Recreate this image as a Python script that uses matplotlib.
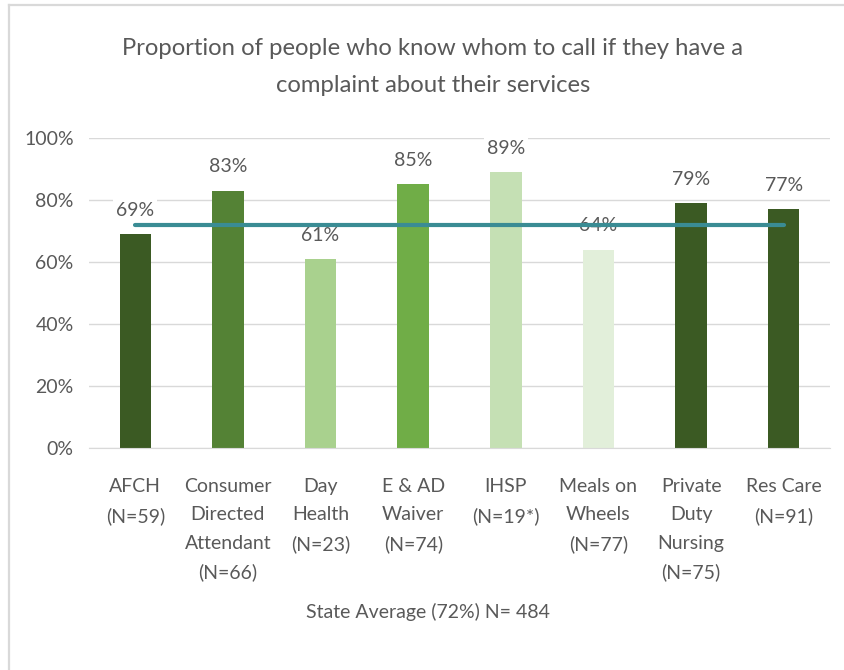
import matplotlib
matplotlib.use('Agg')
from matplotlib import pyplot as plt
from matplotlib.lines import Line2D
from matplotlib.ticker import PercentFormatter

# survey results by program
programs = ['AFCH\n(N=59)', 'Consumer\nDirected\nAttendant\n(N=66)', 'Day\nHealth\n(N=23)',
            'E & AD\nWaiver\n(N=74)', 'IHSP\n(N=19*)', 'Meals on\nWheels\n(N=77)',
            'Private\nDuty\nNursing\n(N=75)', 'Res Care\n(N=91)']
shares = [69, 83, 61, 85, 89, 64, 79, 77]
state_avg = 72
colors = ['#3b5a23', '#548235', '#a9d18e', '#70ad47', '#c5e0b4', '#e2efda', '#3b5a23', '#3b5a23']

plt.rcParams['font.family'] = ['Lato', 'DejaVu Sans']
txt = '#595959'

fig = plt.figure(figsize=(8.45, 6.7), dpi=100)
ax = fig.add_axes([0.1053, 0.3318, 0.877, 0.4622])

x = range(len(programs))
ax.bar(x, shares, width=0.34, color=colors, zorder=2)
ax.plot([0, len(programs) - 1], [state_avg, state_avg], color='#3a8c94', lw=3,
        solid_capstyle='round', zorder=4)

for i, v in enumerate(shares):
    ax.annotate(f'{v}%', (i, v), xytext=(0, 11), textcoords='offset points',
                ha='center', va='bottom', fontsize=14, color=txt, zorder=3,
                bbox=dict(boxstyle='square,pad=0.15', fc='white', ec='none'))

ax.set_xlim(-0.5, len(programs) - 0.5)
ax.set_ylim(0, 100)
ax.set_yticks(range(0, 101, 20))
ax.yaxis.set_major_formatter(PercentFormatter(decimals=0))
ax.set_xticks(list(x))
ax.set_xticklabels(programs, linespacing=1.8)
ax.tick_params(axis='both', length=0, labelsize=14, colors=txt)
ax.tick_params(axis='x', pad=22)
ax.tick_params(axis='y', pad=11)
ax.grid(axis='y', color='#d9d9d9', lw=1, zorder=0)
for s in ['top', 'right', 'left']:
    ax.spines[s].set_visible(False)
ax.spines['bottom'].set_color('#d9d9d9')

fig.text(0.512, 0.9, 'Proportion of people who know whom to call if they have a\ncomplaint about their services',
         ha='center', va='center', fontsize=17.2, color=txt, linespacing=1.95)
fig.text(0.506, 0.087, 'State Average (72%) N= 484', ha='center', va='center', fontsize=14, color=txt)

# chart frame edges
fig.add_artist(Line2D([0.0107, 0.0107], [0, 0.9925], color='#d9d9d9', lw=1.6, transform=fig.transFigure))
fig.add_artist(Line2D([0.0107, 1], [0.9925, 0.9925], color='#d9d9d9', lw=1.6, transform=fig.transFigure))

plt.savefig('out.png')
